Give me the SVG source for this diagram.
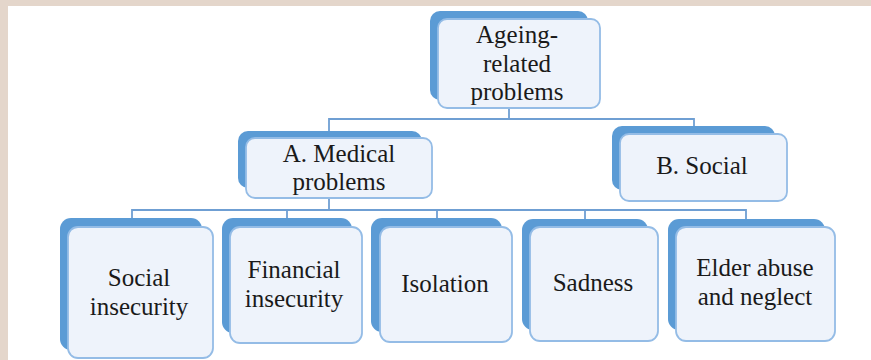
<svg xmlns="http://www.w3.org/2000/svg" width="871" height="360" viewBox="0 0 871 360">
<style>
.back{fill:#5b9bd5;}
.front{fill:#eef3fb;stroke:#94bce6;stroke-width:1.8;}
.lbl{font-family:"Liberation Serif","Times New Roman",serif;font-size:25px;fill:#1a1a1a;text-anchor:middle;}
.conn{fill:none;stroke:#6f9fd3;stroke-width:1.8;}
</style>
<rect x="0" y="0" width="871" height="360" fill="#ffffff"/>
<rect x="0" y="0" width="871" height="6" fill="#e4d6cb"/>
<rect x="0" y="0" width="8" height="360" fill="#e4d6cb"/>
<g id="connectors">
<polyline class="conn" points="509,108 509,119 329,119 329,131"/>
<polyline class="conn" points="509,119 694,119 694,126"/>
<polyline class="conn" points="329,198 329,210"/>
<polyline class="conn" points="132,218 132,210 746,210 746,219"/>
<line class="conn" x1="287" y1="210" x2="287" y2="218"/>
<line class="conn" x1="437" y1="210" x2="437" y2="218"/>
<line class="conn" x1="585" y1="210" x2="585" y2="219"/>
</g>
<g id="node-ageing">
<rect class="back" x="430" y="11" width="158" height="89" rx="10"/>
<rect class="front" x="438" y="19" width="162" height="89" rx="9"/>
<text class="lbl" x="517" y="43">Ageing-</text>
<text class="lbl" x="517" y="72">related</text>
<text class="lbl" x="517" y="100">problems</text>
</g>
<g id="node-medical">
<rect class="back" x="238" y="131" width="184" height="57" rx="10"/>
<rect class="front" x="246" y="138" width="186" height="60" rx="9"/>
<text class="lbl" x="339" y="162">A. Medical</text>
<text class="lbl" x="339" y="190">problems</text>
</g>
<g id="node-social">
<rect class="back" x="612" y="126" width="163" height="64" rx="10"/>
<rect class="front" x="620" y="134" width="167" height="67" rx="9"/>
<text class="lbl" x="702" y="174">B. Social</text>
</g>
<g id="node-social-insecurity">
<rect class="back" x="60" y="218" width="142" height="132" rx="11"/>
<rect class="front" x="68" y="227" width="145" height="131" rx="10"/>
<text class="lbl" x="139" y="286">Social</text>
<text class="lbl" x="139" y="315">insecurity</text>
</g>
<g id="node-financial">
<rect class="back" x="222" y="218" width="130" height="115" rx="11"/>
<rect class="front" x="230" y="227" width="132" height="116" rx="10"/>
<text class="lbl" x="294" y="278">Financial</text>
<text class="lbl" x="294" y="307">insecurity</text>
</g>
<g id="node-isolation">
<rect class="back" x="371" y="218" width="131" height="114" rx="11"/>
<rect class="front" x="380" y="227" width="132" height="115" rx="10"/>
<text class="lbl" x="445" y="292">Isolation</text>
</g>
<g id="node-sadness">
<rect class="back" x="522" y="219" width="126" height="111" rx="11"/>
<rect class="front" x="530" y="227" width="128" height="114" rx="10"/>
<text class="lbl" x="593" y="291">Sadness</text>
</g>
<g id="node-elder">
<rect class="back" x="668" y="219" width="157" height="111" rx="11"/>
<rect class="front" x="676" y="227" width="159" height="114" rx="10"/>
<text class="lbl" x="755" y="276">Elder abuse</text>
<text class="lbl" x="755" y="305">and neglect</text>
</g>
</svg>
